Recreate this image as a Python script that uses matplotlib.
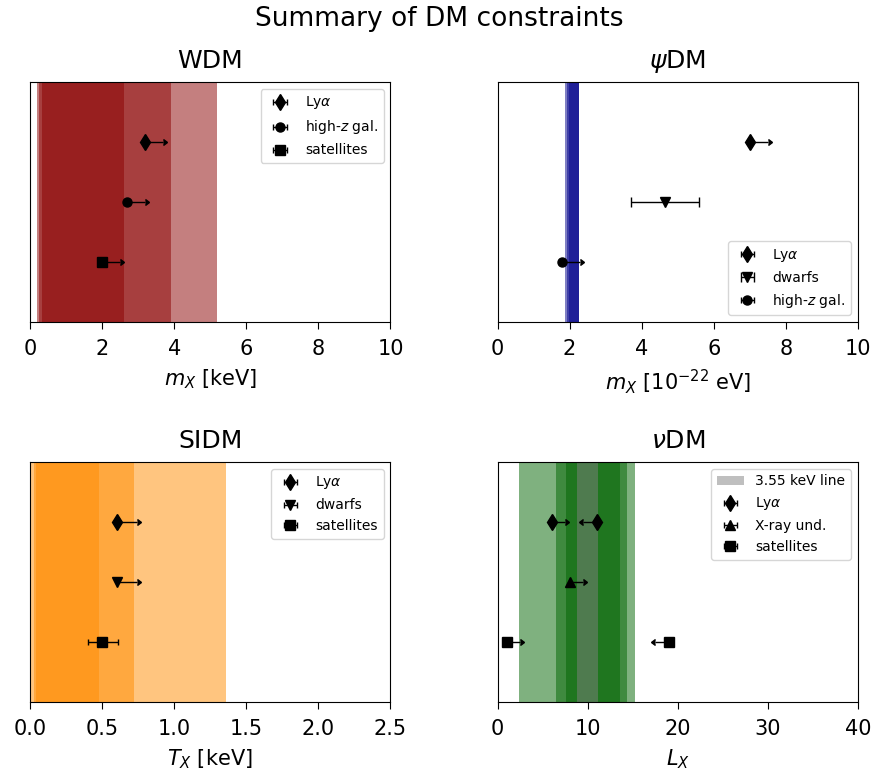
import matplotlib
matplotlib.use('Agg')
import matplotlib.pyplot as plt
import numpy as np

# rows of the constraints (top to bottom)
ROWS = [3, 2, 1]

# ---------------- WDM ----------------
wdm_bands = [(0.18, 5.18), (0.24, 3.9), (0.33, 2.6)]
wdm_labels = ["Ly$\\alpha$", "high-$z$ gal.", "satellites"]
wdm_markers = ["d", "o", "s"]
wdm_x = [3.2, 2.7, 2.0]
wdm_err = [0.5, 0.5, 0.5]

# ---------------- psiDM ----------------
psi_bands = [(1.88, 2.26), (1.925, 2.26), (1.97, 2.26)]
psi_labels = ["Ly$\\alpha$", "dwarfs", "high-$z$ gal."]
psi_markers = ["d", "v", "o"]
psi_x = [7.0, 4.65, 1.8]
psi_err_lo = [0.0, 0.95, 0.0]
psi_err_hi = [0.5, 0.95, 0.5]
psi_lolims = [True, False, True]

# ---------------- SIDM ----------------
sidm_bands = [(0.01, 1.356), (0.028, 0.72), (0.044, 0.48)]
sidm_labels = ["Ly$\\alpha$", "dwarfs", "satellites"]
sidm_markers = ["d", "v", "s"]
sidm_x = [0.6, 0.6, 0.5]
sidm_err_lo = [0.0, 0.0, 0.1]
sidm_err_hi = [0.145, 0.145, 0.11]
sidm_lolims = [True, True, False]

# ---------------- nuDM ----------------
nu_bands = [(2.36, 15.28), (6.48, 14.36), (7.6, 13.55)]
nu_line = (8.86, 11.2)
nu_lya_x = [6, 11]
nu_lya_lolims = [True, False]
nu_xray_x = [8]
nu_sat_x = [1, 19]
nu_sat_lolims = [True, False]
nu_err = 1.5

MS = {'d': 8, 'o': 6.5, 's': 6.5, 'v': 7, '^': 7}

fig, axes = plt.subplots(2, 2, figsize=(8.78, 7.77), dpi=100)
plt.subplots_adjust(left=0.0342, right=0.9772, top=0.8945, bottom=0.0965,
                    wspace=0.297, hspace=0.583)
fig.suptitle("Summary of DM constraints", fontsize=19, y=0.992)

ax_wdm, ax_psi = axes[0]
ax_sidm, ax_nu = axes[1]


def bands(ax, spans, color):
    for lo, hi in spans:
        ax.axvspan(lo, hi, color=color, alpha=0.5, lw=0)


#_______________ WDM _______________
bands(ax_wdm, wdm_bands, 'darkred')
for x, e, y, m, lab in zip(wdm_x, wdm_err, ROWS, wdm_markers, wdm_labels):
    ax_wdm.errorbar([x], [y], xerr=[[0], [e]], xlolims=True, fmt='k' + m,
                    ms=MS[m], capsize=2, elinewidth=1, label=lab)
ax_wdm.set_xlim(0, 10)
ax_wdm.set_xlabel("$m_X$ [keV]")
ax_wdm.set_title("WDM")
ax_wdm.legend(loc='upper right', fontsize=10)

#_______________ psiDM _______________
bands(ax_psi, psi_bands, 'darkblue')
for x, el, eh, lol, y, m, lab in zip(psi_x, psi_err_lo, psi_err_hi, psi_lolims,
                                     ROWS, psi_markers, psi_labels):
    ax_psi.errorbar([x], [y], xerr=[[el], [eh]], xlolims=lol, fmt='k' + m,
                    ms=MS[m], capsize=2 if lol else 3.5,
                    elinewidth=1, label=lab)
ax_psi.set_xlim(0, 10)
ax_psi.set_xlabel("$m_X$ [$10^{-22}$ eV]")
ax_psi.set_title("$\\psi$DM")
ax_psi.legend(loc='lower right', fontsize=10)

#_______________ SIDM _______________
bands(ax_sidm, sidm_bands, 'darkorange')
for x, el, eh, lol, y, m, lab in zip(sidm_x, sidm_err_lo, sidm_err_hi, sidm_lolims,
                                     ROWS, sidm_markers, sidm_labels):
    ax_sidm.errorbar([x], [y], xerr=[[el], [eh]], xlolims=lol, fmt='k' + m,
                     ms=MS[m], capsize=2, elinewidth=1, label=lab)
ax_sidm.set_xlim(0, 2.5)
ax_sidm.set_xlabel("$T_X$ [keV]")
ax_sidm.set_title("SIDM")
ax_sidm.legend(loc='upper right', fontsize=10)

#_______________ nuDM _______________
bands(ax_nu, nu_bands, 'darkgreen')
ax_nu.axvspan(nu_line[0], nu_line[1], color='gray', alpha=0.5, lw=0,
              label="3.55 keV line")
ax_nu.errorbar(nu_lya_x, [ROWS[0]] * 2, xerr=nu_err, xlolims=nu_lya_lolims,
               xuplims=[not v for v in nu_lya_lolims], fmt='kd', ms=MS['d'],
               capsize=2, elinewidth=1, label="Ly$\\alpha$")
ax_nu.errorbar(nu_xray_x, [ROWS[1]], xerr=nu_err, xlolims=True, fmt='k^',
               ms=MS['^'], capsize=2, elinewidth=1, label="X-ray und.")
ax_nu.errorbar(nu_sat_x, [ROWS[2]] * 2, xerr=nu_err, xlolims=nu_sat_lolims,
               xuplims=[not v for v in nu_sat_lolims], fmt='ks', ms=MS['s'],
               capsize=2, elinewidth=1, label="satellites")
ax_nu.set_xlim(0, 40)
ax_nu.set_xlabel("$L_X$")
ax_nu.set_title("$\\nu$DM")
ax_nu.legend(loc='upper right', fontsize=10)

for ax in axes.flat:
    ax.set_ylim(0, 4)
    ax.set_yticks([])
    ax.tick_params(axis='x', labelsize=15, length=5, pad=7)
    ax.xaxis.label.set_size(15)
    ax.xaxis.labelpad = 6
    ax.set_title(ax.get_title(), fontsize=18, pad=10)

plt.savefig('out.png', dpi=100)
